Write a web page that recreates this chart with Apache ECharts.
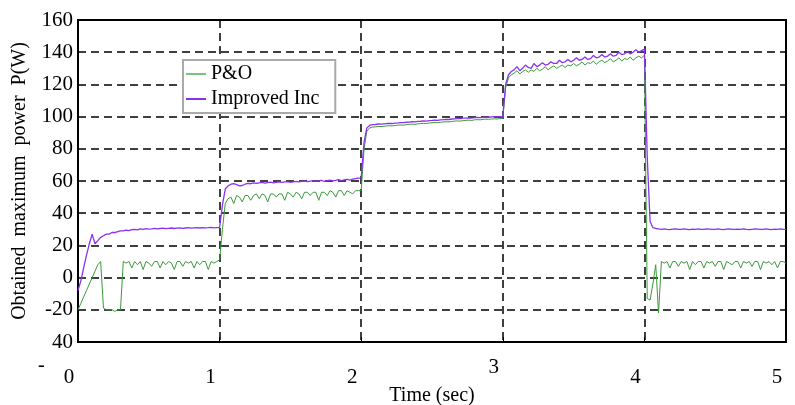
<!DOCTYPE html>
<html><head><meta charset="utf-8">
<script src="https://cdn.jsdelivr.net/npm/echarts@6/dist/echarts.min.js"></script>
<style>html,body{margin:0;padding:0;background:#fff}#c{width:795px;height:405px}</style>
</head><body><div id="c"></div>
<script>
// sampling step of the traces (seconds)
const dt = 0.02;
const xTicks = [0, 1, 2, 3, 4, 5];
const yTicks = [-40, -20, 0, 20, 40, 60, 80, 100, 120, 140, 160];
const seriesNames = ['P&O', 'Improved Inc'];

// P&O power (W), every 0.02 s, t = 0 .. 5
const poPower = [
  -20,-16,-12,-8,-4,0,4,8,10,-19,-20,-20,-20,-21,-20,-20,10,
  9,10,6,10,8,10,5,10,9,7,10,10,6,10,8,10,9,5,10,10,7,10,9,10,6,10,8,10,10,5,10,9,10,
  11,30,46,49,
  50,46,51,50,47,51,51,48,51,52,49,52,51,47,52,52,50,52,52,48,53,52,50,53,52,49,53,53,51,53,53,48,53,53,51,54,53,50,54,54,51,54,53,52,54,54,
  54,80,91,93,
  93.5,93.6,93.9,93.8,94,94.2,94.3,94.2,94.5,94.7,94.8,94.7,95,95.2,95.3,95.2,95.5,95.7,95.8,95.7,96,96.2,96.3,96.2,96.5,96.7,96.8,96.7,97,97.2,97.3,97.2,97.5,97.7,97.8,97.6,98,98.1,98,98.3,98.4,98.3,98.5,98.6,98.5,98.8,
  99,118,124,126,
  127,128.5,126.5,128,129,127.5,129,128,130,128.5,129.5,131,129,130.5,131.5,130,131,132,130.5,132,131.5,133,131.5,132.5,134,132,133.5,133,134.5,132.5,134,135,133.5,134.5,136,134,135,136.5,134.5,136,135.5,137,135,136.5,137.5,136.5,
  138,-13,-14,-4,8,-22,10,
  9,10,6,10,10,7,10,9,10,5,10,8,10,10,6,10,9,10,7,10,10,5,10,9,8,10,10,6,10,9,10,7,10,10,5,10,9,10,8,10,6,10,10,9
];

// Improved Inc power (W), same sampling
const incPower = [
  -8,-2,6,14,21,27,21,23,25,26,27,27,28,28,28.5,29,
  29,29.5,29.2,29.8,30,29.6,30.2,30,30.4,30.1,30.3,30.6,30.2,30.5,30.7,30.4,30.6,30.8,30.5,30.7,30.9,30.6,30.8,31,30.7,30.9,31,30.8,31.1,30.9,31,31.2,30.9,31.1,
  31,45,55,57,
  58,58.3,57.8,57,57.2,58,58.5,58.3,58.8,58.5,58.9,59.2,58.7,59,59.3,58.9,59.2,59.5,59.1,59.4,59.6,59.2,59.5,59.8,59.4,59.7,60,59.6,59.9,60.2,59.8,60.1,60.4,59.7,60.2,60.5,60.1,60.4,60.8,60.3,60.7,61,60.6,61.2,61.5,61.8,
  62,84,93,94.5,
  95,95.1,95.4,95.3,95.5,95.7,95.8,95.7,96,96.1,96.3,96.2,96.5,96.6,96.8,96.7,97,97.1,97.3,97.2,97.5,97.6,97.8,97.7,98,98.1,98.3,98.2,98.5,98.6,98.8,98.7,99,99.1,99.2,99.1,99.4,99.5,99.4,99.6,99.7,99.6,99.8,99.9,99.8,100,
  100,120,126,128,
  129,131,128.5,130,132,130.5,130,133,131,132,133.5,132,132.5,134,133,133,135,133.5,134,135.5,134,135,136.5,135,135.5,137,135.5,136,138,136.5,137,138.5,137,137.5,139,137.5,138,140,138.5,139,140.5,139,140,141.5,140,141,
  142,75,35,31,
  30.5,30.2,30,30.3,30,29.8,30.1,30.2,29.9,30,30.2,30,29.8,30.1,30,30.2,29.9,30,30.3,30.1,29.9,30,30.2,30,29.8,30.1,30.2,30,29.9,30.1,30,30.3,30,29.8,30,30.2,30.1,29.9,30,30.2,30,29.8,30.1,30,30.2,29.9,30
];

const pair = arr => arr.map((v, i) => [+(i * dt).toFixed(2), v]);
const serif = 'Liberation Serif';

const chart = echarts.init(document.getElementById('c'), null, {renderer: 'canvas'});
chart.setOption({
  animation: false,
  backgroundColor: '#fff',
  grid: {left: 78, right: 9, top: 20, bottom: 63, containLabel: false, outerBoundsMode: 'none',
    show: true, borderColor: '#000', borderWidth: 2, backgroundColor: 'transparent'},
  legend: {
    orient: 'vertical', left: 183, top: 60,
    data: [{name: seriesNames[0], icon: 'rect'}, {name: seriesNames[1], icon: 'rect'}],
    itemWidth: 20, itemHeight: 2, itemGap: 5,
    padding: [4, 16, 4, 3],
    backgroundColor: '#fff', borderColor: '#aaa', borderWidth: 2,
    textStyle: {fontFamily: serif, fontSize: 20, color: '#000'}
  },
  xAxis: {
    type: 'value', min: xTicks[0], max: xTicks[xTicks.length - 1], interval: 1,
    name: 'Time (sec)', nameLocation: 'middle', nameGap: 44, nameMoveOverlap: false,
    nameTextStyle: {fontFamily: serif, fontSize: 20, color: '#000'},
    axisLine: {show: true, onZero: false, lineStyle: {color: '#000', width: 2}},
    axisTick: {show: true, inside: true, length: 5, lineStyle: {color: '#000'}},
    axisLabel: {fontFamily: serif, fontSize: 21, color: '#000', margin: 46, verticalAlign: 'bottom',
      padding: [0, 18, 0, 0],
      formatter: v => v === 3 ? '{up|3}' : String(v),
      rich: {up: {fontFamily: serif, fontSize: 21, color: '#000', padding: [0, 0, 10, 0]}}},
    splitLine: {show: true, lineStyle: {color: '#000', type: [8, 5], width: 1.5}}
  },
  yAxis: {
    type: 'value', min: yTicks[0], max: yTicks[yTicks.length - 1], interval: 20,
    name: 'Obtained  maximum  power  P(W)', nameLocation: 'middle', nameGap: 48, nameRotate: 90,
    nameMoveOverlap: false,
    nameTextStyle: {fontFamily: serif, fontSize: 20, color: '#000'},
    axisLine: {show: true, onZero: false, lineStyle: {color: '#000', width: 2}},
    axisTick: {show: false},
    axisLabel: {fontFamily: serif, fontSize: 21, color: '#000', margin: 5,
      formatter: v => v === -40 ? '40' : String(v)},
    splitLine: {show: true, lineStyle: {color: '#000', type: [8, 5], width: 1.5}}
  },
  graphic: [{type: 'text', left: 38, top: 356, style: {text: '-', font: '20px "Liberation Serif"', fill: '#000'}}],
  series: [
    {name: seriesNames[0], type: 'line', data: pair(poPower), showSymbol: false, symbol: 'none',
     lineStyle: {color: '#3a9a3a', width: 1}, itemStyle: {color: '#7cc47c'}, z: 3},
    {name: seriesNames[1], type: 'line', data: pair(incPower), showSymbol: false, symbol: 'none',
     lineStyle: {color: '#8a33ee', width: 1.3}, itemStyle: {color: '#8a33ee'}, z: 4}
  ]
});
</script></body></html>
